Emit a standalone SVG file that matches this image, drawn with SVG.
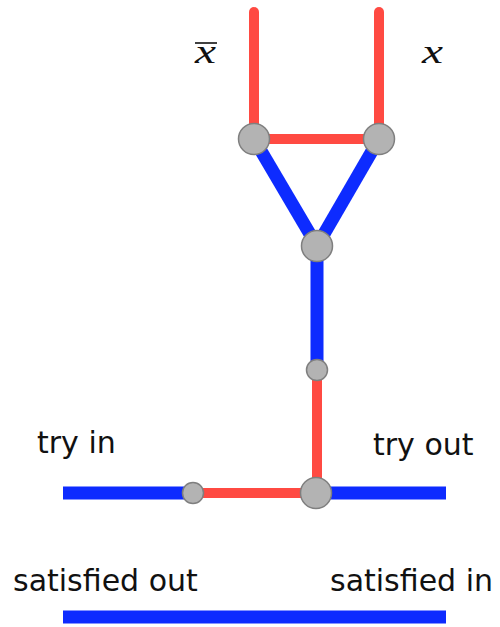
<svg xmlns="http://www.w3.org/2000/svg" width="500" height="627" viewBox="0 0 500 627">
<style>
.red{stroke:#ff4a42;stroke-width:10;fill:none}
.blue{stroke:#0d2bff;stroke-width:13;fill:none}
.node{fill:#b3b3b3;stroke:#7f7f7f;stroke-width:1.5}
.lbl{font-family:"DejaVu Sans",sans-serif;font-size:30px;fill:#111}
.math{font-family:"Liberation Serif",serif;font-style:italic;font-size:34px;fill:#111}
</style>
<rect width="500" height="627" fill="#fff"/>
<g id="connectors">
<line class="red" x1="254" y1="12" x2="254" y2="139" stroke-linecap="round"/>
<line class="red" x1="379" y1="12" x2="379" y2="139" stroke-linecap="round"/>
<line class="red" x1="254" y1="139" x2="379" y2="139"/>
<line class="blue" x1="254" y1="139" x2="317" y2="246"/>
<line class="blue" x1="379" y1="139" x2="317" y2="246"/>
<line class="blue" x1="317" y1="246" x2="317" y2="370"/>
<line class="red" x1="317" y1="370" x2="317" y2="493"/>
<line class="blue" x1="63" y1="493" x2="193" y2="493"/>
<line class="red" x1="193" y1="493" x2="316" y2="493"/>
<line class="blue" x1="316" y1="493" x2="446" y2="493"/>
<line class="blue" x1="63" y1="617" x2="446" y2="617"/>
</g>
<g id="n-top-left"><circle class="node" cx="254" cy="139" r="15.5"/></g>
<g id="n-top-right"><circle class="node" cx="379" cy="139" r="15.5"/></g>
<g id="n-join"><circle class="node" cx="317" cy="246" r="15.5"/></g>
<g id="n-mid"><circle class="node" cx="317" cy="370" r="10.5"/></g>
<g id="n-bottom"><circle class="node" cx="316" cy="493" r="15.5"/></g>
<g id="n-left"><circle class="node" cx="193" cy="493" r="10.5"/></g>
<g id="labels">
<line x1="195" y1="43" x2="217" y2="43" stroke="#111" stroke-width="1.6"/>
<text class="math" x="195" y="63" textLength="21" lengthAdjust="spacingAndGlyphs">x</text>
<text class="math" x="422" y="63" textLength="21" lengthAdjust="spacingAndGlyphs">x</text>
<text class="lbl" x="37" y="453">try in</text>
<text class="lbl" x="373" y="455">try out</text>
<text class="lbl" x="13" y="591">satisfied out</text>
<text class="lbl" x="330" y="591">satisfied in</text>
</g>
</svg>
